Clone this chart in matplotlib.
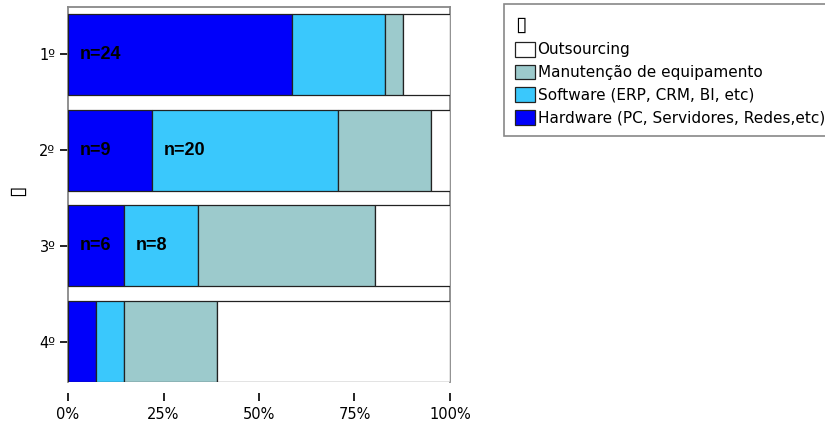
import matplotlib
matplotlib.use('Agg')
import matplotlib.pyplot as plt
import numpy as np

# dados (contagens)
categorias = ['1º', '2º', '3º', '4º']
hardware = [24, 9, 6, 3]
software = [10, 20, 8, 3]
manutencao = [2, 10, 19, 10]
outsourcing = [5, 2, 8, 25]

series = ['Hardware (PC, Servidores, Redes,etc)', 'Software (ERP, CRM, BI, etc)',
          'Manutenção de equipamento', 'Outsourcing']
cores = ['#0000FA', '#3AC8FC', '#9CCACC', '#FFFFFF']
xticks = [0, 25, 50, 75, 100]

# segmentos com rótulo n=... (linha, série)
rotulos = [(0, 0), (1, 0), (1, 1), (2, 0), (2, 1)]

plt.rcParams['font.family'] = ['DejaVu Sans']
plt.rcParams['font.size'] = 10.5

dados = np.array([hardware, software, manutencao, outsourcing], dtype=float)
perc = dados / dados.sum(axis=0) * 100

fig = plt.figure(figsize=(8.25, 4.23), dpi=100)
ax = fig.add_axes([68 / 825, 1 - 382 / 423, 382 / 825, 375 / 423])

y = np.arange(len(categorias))
altura = 0.845
esq = np.zeros(len(categorias))
for i, nome in enumerate(series):
    ax.barh(y, perc[i], left=esq, height=altura, color=cores[i],
            edgecolor='#222222', linewidth=0.9, label=nome, zorder=3)
    esq += perc[i]

inicio = np.vstack([np.zeros(len(categorias)), np.cumsum(perc, axis=0)[:-1]])
for linha, s in rotulos:
    ax.text(inicio[s, linha] + 3, y[linha], 'n=%d' % dados[s, linha],
            ha='left', va='center', fontsize=13, fontweight='bold',
            family='Liberation Sans', zorder=4)

ax.set_xlim(0, 100)
ax.set_ylim(3 + altura / 2, -0.496)
ax.set_yticks(y)
ax.set_yticklabels(categorias)
ax.set_xticks(xticks)
ax.set_xticklabels(['%d%%' % v for v in xticks])

for lado in ['left', 'right', 'top']:
    ax.spines[lado].set_color('#888888')
    ax.spines[lado].set_linewidth(1.3)
ax.spines['bottom'].set_position(('outward', 8))
ax.spines['bottom'].set_visible(False)
ax.tick_params(axis='both', direction='out', length=6, width=1.2, color='black')
ax.tick_params(axis='y', pad=3)
ax.tick_params(axis='x', pad=4)

ax.set_ylabel('▯', rotation=90, fontsize=15, va='center', ha='center')
ax.yaxis.set_label_coords((17 - 68) / 382, 0.51)

h, l = ax.get_legend_handles_labels()
leg = fig.legend(h[::-1], l[::-1], title='▯', loc='upper left',
                 bbox_to_anchor=(504 / 825, 1 - 4 / 423), borderaxespad=0,
                 fancybox=False, edgecolor='#888888', framealpha=1,
                 fontsize=11, title_fontsize=15,
                 handlelength=1.3, handleheight=1.1, handletextpad=0.2,
                 labelspacing=0.47, alignment='left', borderpad=0.7)
leg.get_frame().set_linewidth(1.2)

fig.savefig('out.png', dpi=100)
